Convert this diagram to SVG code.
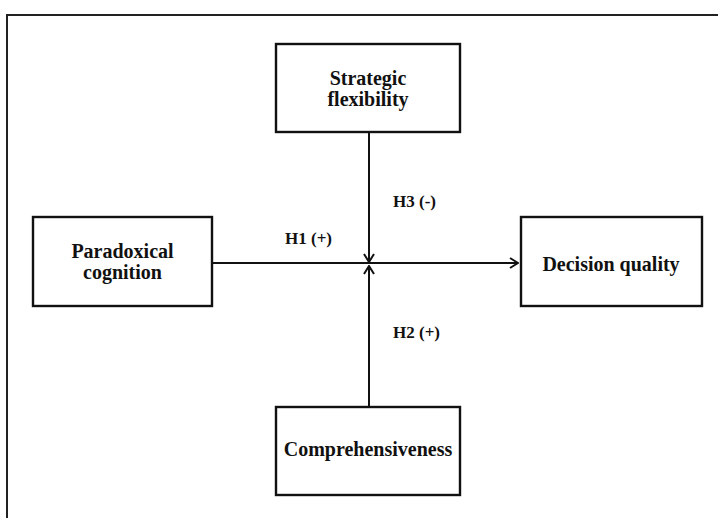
<svg xmlns="http://www.w3.org/2000/svg" width="718" height="518" viewBox="0 0 718 518">
<style>
.box{fill:#fff;stroke:#111;stroke-width:2.4}
.t{font-family:"Liberation Serif","Times New Roman",serif;font-weight:bold;font-size:20px;fill:#111;text-anchor:middle}
.l{font-family:"Liberation Serif","Times New Roman",serif;font-weight:bold;font-size:17px;fill:#111}
.c{stroke:#111;stroke-width:2;fill:none}
</style>
<defs>
<marker id="arr" viewBox="0 0 10 12" refX="9" refY="6" markerWidth="10" markerHeight="12" markerUnits="userSpaceOnUse" orient="auto">
<path d="M1,1 L9,6 L1,11" fill="none" stroke="#111" stroke-width="2"/>
</marker>
</defs>
<rect width="718" height="518" fill="#fff"/>
<rect x="7" y="15" width="730" height="530" fill="none" stroke="#222" stroke-width="2"/>
<g id="connectors">
<line class="c" x1="212" y1="263" x2="518" y2="263" marker-end="url(#arr)"/>
<line class="c" x1="369" y1="132" x2="369" y2="262" marker-end="url(#arr)"/>
<line class="c" x1="369" y1="407" x2="369" y2="266" marker-end="url(#arr)"/>
</g>
<g id="strategic">
<rect class="box" x="276" y="44" width="184" height="88"/>
<text class="t" x="368" y="85">Strategic</text>
<text class="t" x="368" y="106">flexibility</text>
</g>
<g id="paradoxical">
<rect class="box" x="33" y="217" width="179" height="89"/>
<text class="t" x="122.5" y="258">Paradoxical</text>
<text class="t" x="122.5" y="279">cognition</text>
</g>
<g id="decision">
<rect class="box" x="521" y="217" width="181" height="89"/>
<text class="t" x="611" y="271">Decision quality</text>
</g>
<g id="comprehensiveness">
<rect class="box" x="276" y="407" width="184" height="88"/>
<text class="t" x="368" y="456">Comprehensiveness</text>
</g>
<g id="labels">
<text class="l" x="285" y="244">H1 (+)</text>
<text class="l" x="393" y="207">H3 (-)</text>
<text class="l" x="393" y="338">H2 (+)</text>
</g>
</svg>
